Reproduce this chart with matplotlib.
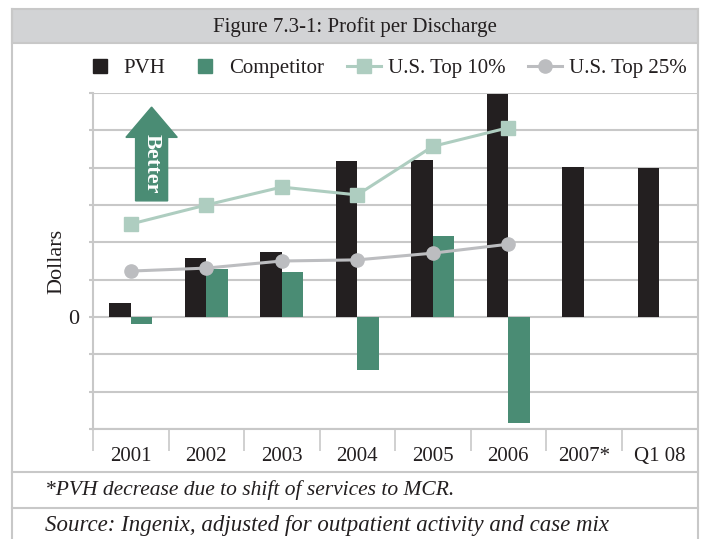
import numpy as np
import matplotlib
matplotlib.use("Agg")
import matplotlib.pyplot as plt
from matplotlib.patches import Rectangle, FancyArrow
from matplotlib.lines import Line2D

# ── data (y in arbitrary dollar units; one gridline = 100) ──────────────
categories = ["2001", "2002", "2003", "2004", "2005", "2006", "2007*", "Q1 08"]
pvh        = [37, 158, 174, 418, 420, 597, 402, 399]
competitor = [-19, 128, 120, -142, 217, -283, np.nan, np.nan]
top10      = [249, 300, 348, 327, 457, 507]
top25      = [123, 131, 150, 153, 171, 195]

C_PVH  = "#231f20"
C_COMP = "#4a8c74"
C_T10  = "#aecdc0"
C_T25  = "#bcbdc0"
C_GRID = "#c8c8c8"
C_HEAD = "#d2d3d5"
TXT    = "#231f20"

plt.rcParams["font.family"] = ["Liberation Serif", "DejaVu Serif"]

W, H = 701, 539
fig = plt.figure(figsize=(W / 100, H / 100), dpi=100)


def fx(px):
    return px / W


def fy(py):
    return 1 - py / H


ax = fig.add_axes([fx(93), fy(429), fx(697) - fx(93), fy(93) - fy(429)])

x = np.arange(len(categories))
bw = 0.285
ax.bar(x - bw / 2, pvh, bw, color=C_PVH, label="PVH", zorder=3)
ax.bar(x + bw / 2, competitor, bw, color=C_COMP, label="Competitor", zorder=3)

xl = x[:len(top10)]
l1, = ax.plot(xl, top10, color=C_T10, lw=2.2, marker="s", ms=9.5,
              label="U.S. Top 10%", zorder=4)
l2, = ax.plot(xl, top25, color=C_T25, lw=2.2, marker="o", ms=9.5,
              label="U.S. Top 25%", zorder=4)

ax.set_xlim(-0.5, len(categories) - 0.5)
ax.set_ylim(-300, 600)

# y axis: gridlines every 100, only zero labelled
yt = np.arange(-300, 601, 100)
ax.set_yticks(yt)
ax.set_yticklabels(["0" if v == 0 else "" for v in yt], fontsize=16, color=TXT)
ax.tick_params(axis="y", length=3, width=1.5, color=C_GRID, pad=7)
ax.yaxis.grid(True, color=C_GRID, lw=1.5, zorder=0)
ax.set_ylabel("Dollars", fontsize=16, color=TXT, labelpad=1)

# x axis: category labels with separator ticks between them
ax.set_xticks(x)
ax.set_xticklabels(categories, fontsize=15, color=TXT)
ax.set_xticks(np.arange(-0.5, len(categories) - 0.5, 1), minor=True)
ax.tick_params(axis="x", which="major", length=0, pad=13)
ax.tick_params(axis="x", which="minor", length=16, width=1.2, color=C_GRID)

for s in ["top", "right"]:
    ax.spines[s].set_visible(False)
ax.spines["bottom"].set_color(C_GRID)
ax.spines["bottom"].set_linewidth(1.5)
ax.spines["left"].set_color(C_GRID)
ax.spines["left"].set_linewidth(1.5)

# "Better" arrow
ax.add_patch(FancyArrow(0.097, 0.679, 0, 0.279, width=0.053, head_width=0.085,
                        head_length=0.09, length_includes_head=True,
                        color=C_COMP, transform=ax.transAxes, zorder=5))
ax.text(0.097, 0.79, "Better", rotation=-90, color="white", fontsize=16,
        fontweight="bold", ha="center", va="center", transform=ax.transAxes,
        zorder=6)

# ── frame, header, footnotes ────────────────────────────────────────────
fig.add_artist(Rectangle((fx(12), fy(43)), fx(698) - fx(12), fy(9) - fy(43),
                         transform=fig.transFigure, facecolor=C_HEAD,
                         edgecolor=C_GRID, lw=1.5))
fig.text(fx(355), fy(27), "Figure 7.3-1: Profit per Discharge",
         fontsize=15, color=TXT, ha="center", va="center")

for xp in (12, 698):
    fig.add_artist(Line2D([fx(xp), fx(xp)], [fy(9), 0], color=C_GRID, lw=1.5))
for yp in (472, 508):
    fig.add_artist(Line2D([fx(12), fx(698)], [fy(yp), fy(yp)], color=C_GRID, lw=1.5))

fig.text(fx(45), fy(490), "*PVH decrease due to shift of services to MCR.",
         fontsize=15.5, style="italic", color=TXT, ha="left", va="center")
fig.text(fx(45), fy(525), "Source: Ingenix, adjusted for outpatient activity and case mix",
         fontsize=16.5, style="italic", color=TXT, ha="left", va="center")

# legend: square markers stand in for the bars
h_pvh = Line2D([], [], ls="none", marker="s", ms=10.5, color=C_PVH)
h_comp = Line2D([], [], ls="none", marker="s", ms=10.5, color=C_COMP)
fig.legend([h_pvh, h_comp, l1, l2], ["PVH", "Competitor", "U.S. Top 10%", "U.S. Top 25%"],
           loc="center", bbox_to_anchor=(fx(385), fy(68)), ncol=4,
           frameon=False, fontsize=15, handlelength=1.6,
           columnspacing=1.1, handletextpad=0.35, labelcolor=TXT)

fig.savefig("out.png", dpi=100)
